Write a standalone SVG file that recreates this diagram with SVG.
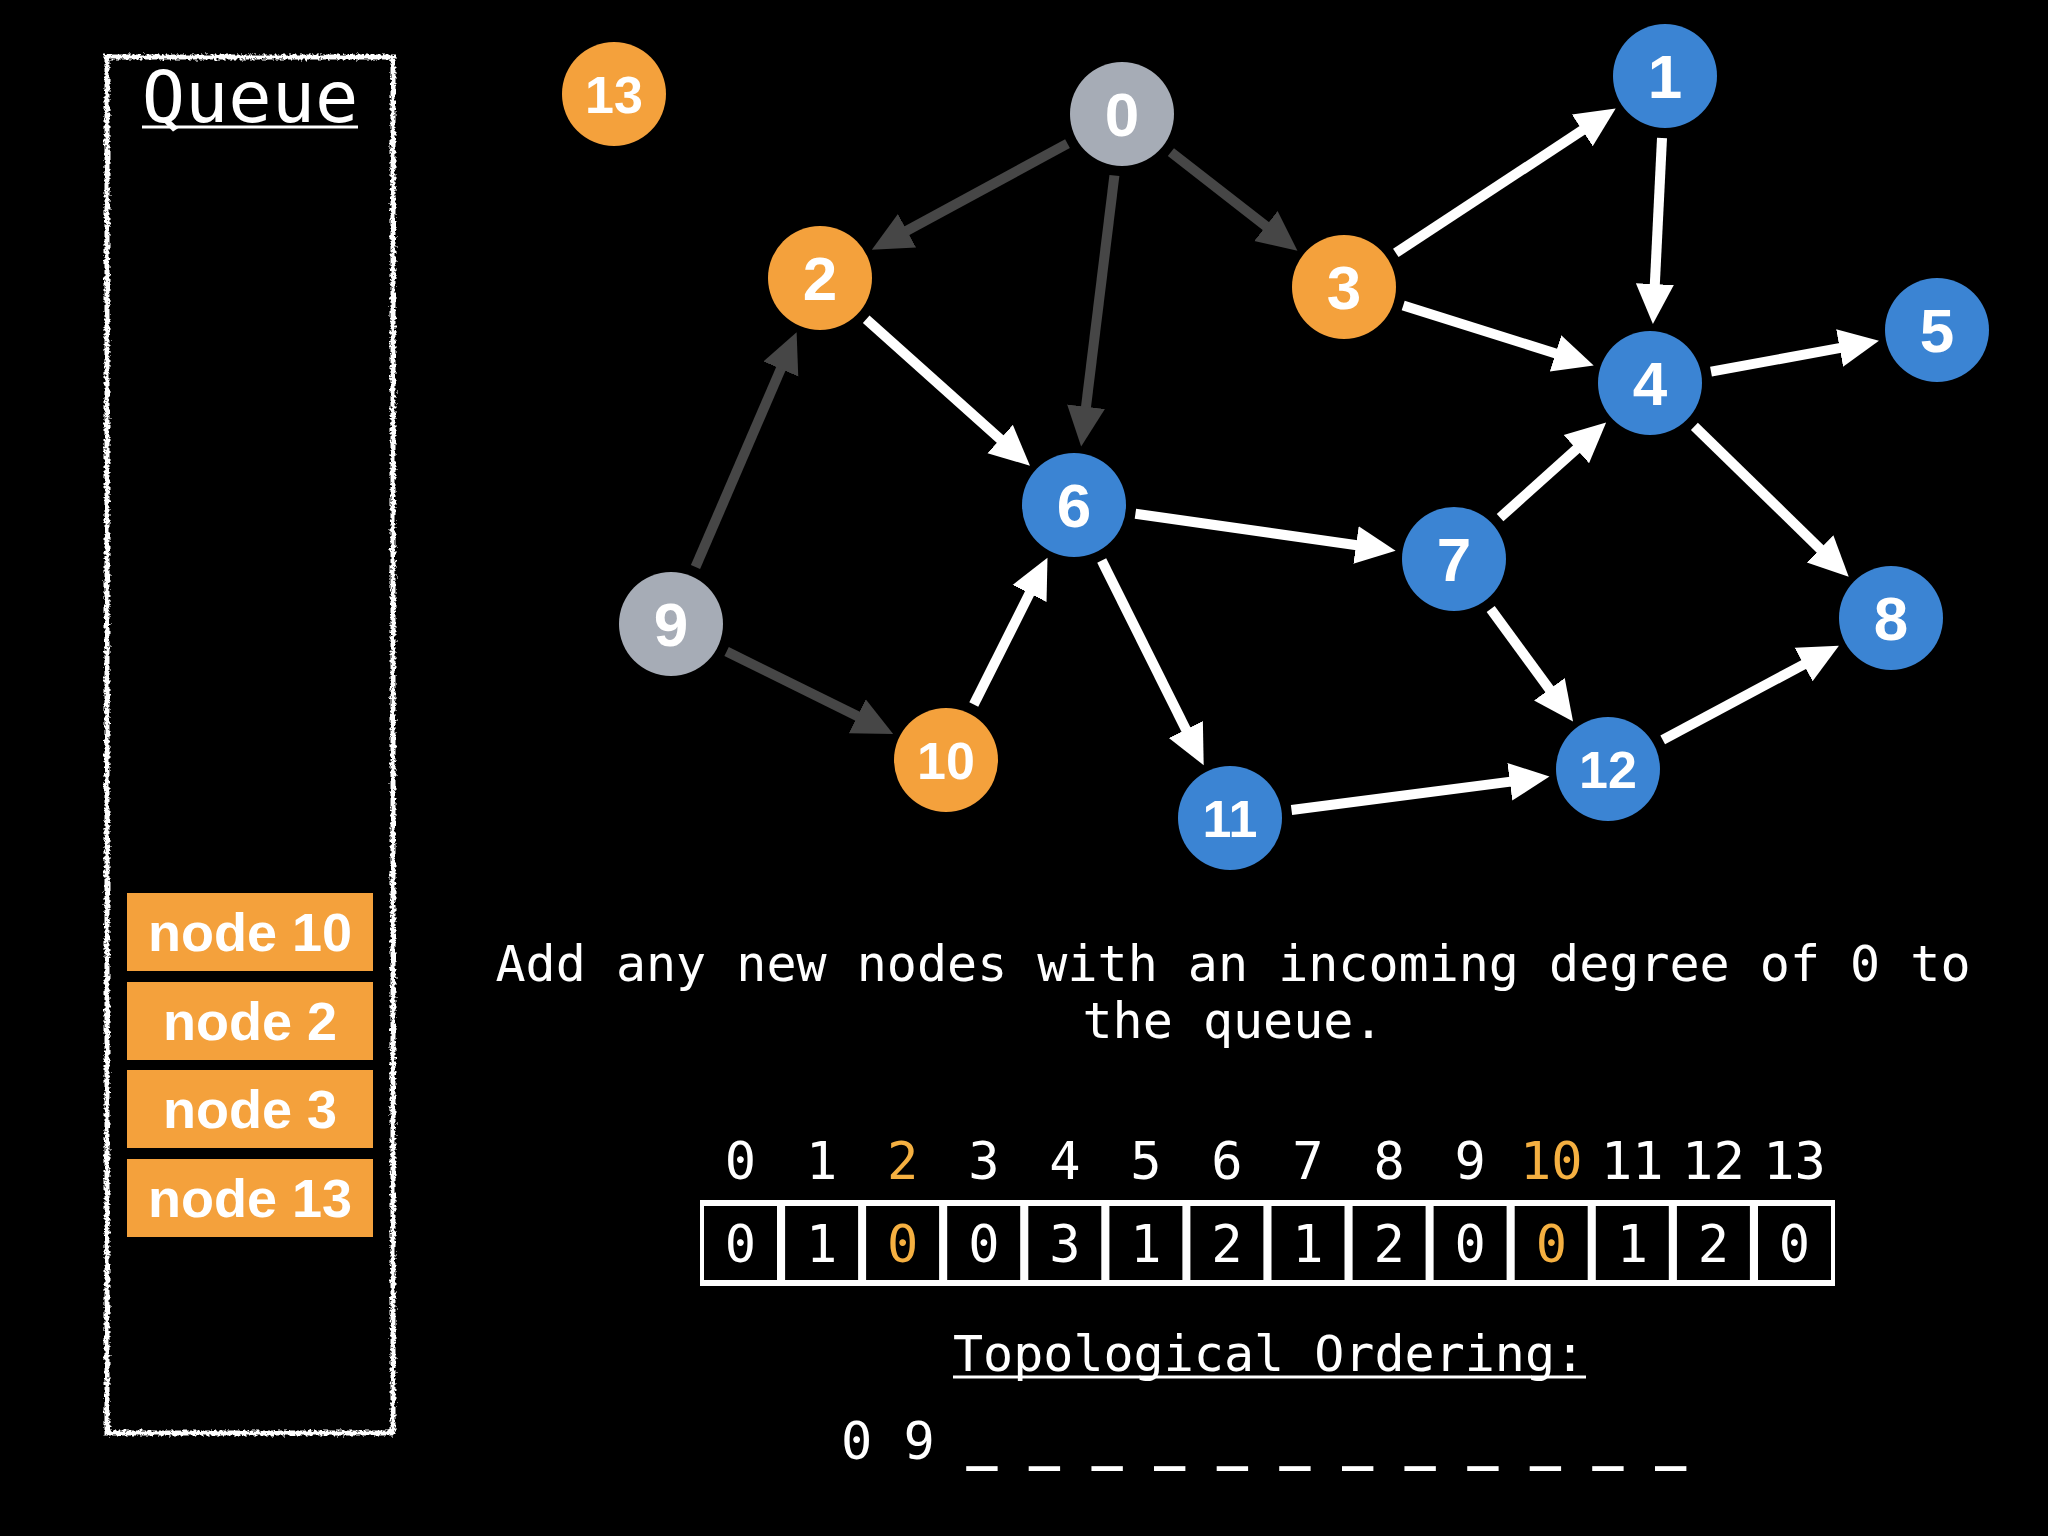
<svg xmlns="http://www.w3.org/2000/svg" width="2048" height="1536" viewBox="0 0 2048 1536">
<defs>
<style>
.mono{font-family:"DejaVu Sans Mono","Liberation Mono",monospace;fill:#fff}
.lbl{font-family:"Liberation Sans",Arial,sans-serif;font-weight:bold;fill:#fff;text-anchor:middle}
.s{font-size:62px}
.d{font-size:52px}
.orange{fill:#F4A13C}
.blue{fill:#3B84D3}
.gray{fill:#A6ACB6}
.ew{stroke:#fff;stroke-width:10;fill:none;marker-end:url(#aw)}
.eg{stroke:#464646;stroke-width:10;fill:none;marker-end:url(#ag)}
.qi{fill:#F4A13C}
.qt{font-family:"Liberation Sans",Arial,sans-serif;font-weight:bold;font-size:54px;fill:#fff;text-anchor:middle}
.hi{fill:#F5B041}
</style>
<marker id="aw" markerUnits="userSpaceOnUse" markerWidth="44" markerHeight="44" viewBox="0 -22 44 44" refX="1" refY="0" orient="auto">
<path d="M0,-19 L40,0 L0,19 z" fill="#fff"/>
</marker>
<marker id="ag" markerUnits="userSpaceOnUse" markerWidth="44" markerHeight="44" viewBox="0 -22 44 44" refX="1" refY="0" orient="auto">
<path d="M0,-19 L40,0 L0,19 z" fill="#464646"/>
</marker>
<filter id="rough" x="-5%" y="-5%" width="110%" height="110%">
<feTurbulence type="fractalNoise" baseFrequency="0.35" numOctaves="2" seed="3" result="n"/>
<feDisplacementMap in="SourceGraphic" in2="n" scale="6" xChannelSelector="R" yChannelSelector="G"/>
</filter>
</defs>
<rect width="2048" height="1536" fill="#000"/>

<g id="queue">
<rect x="107" y="57" width="286" height="1376" fill="none" stroke="#fff" stroke-width="5" filter="url(#rough)"/>
<text class="mono" x="250" y="122" font-size="72" text-anchor="middle">Queue</text>
<line x1="142" y1="127" x2="358" y2="127" stroke="#fff" stroke-width="3"/>
<g id="q-node10"><rect class="qi" x="127" y="893" width="246" height="78"/><text class="qt" x="250" y="951">node 10</text></g>
<g id="q-node2"><rect class="qi" x="127" y="982" width="246" height="78"/><text class="qt" x="250" y="1040">node 2</text></g>
<g id="q-node3"><rect class="qi" x="127" y="1070" width="246" height="78"/><text class="qt" x="250" y="1128">node 3</text></g>
<g id="q-node13"><rect class="qi" x="127" y="1159" width="246" height="78"/><text class="qt" x="250" y="1217">node 13</text></g>
</g>

<g id="connectors">
<line class="eg" x1="1067.5" y1="143.6" x2="906.1" y2="231.2"/>
<line class="eg" x1="1114.4" y1="175.5" x2="1085.9" y2="407.7"/>
<line class="eg" x1="1170.9" y1="152.1" x2="1266.7" y2="226.7"/>
<line class="eg" x1="695.5" y1="567.1" x2="781.2" y2="368"/>
<line class="eg" x1="726.6" y1="651.5" x2="858.2" y2="716.6"/>
<line class="ew" x1="866.2" y1="319.3" x2="1000.9" y2="439.7"/>
<line class="ew" x1="1395.8" y1="252.9" x2="1583.1" y2="129.8"/>
<line class="ew" x1="1403.2" y1="305.6" x2="1556.5" y2="353.7"/>
<line class="ew" x1="1662" y1="137.9" x2="1654.8" y2="285.1"/>
<line class="ew" x1="1711" y1="371.7" x2="1840.6" y2="347.8"/>
<line class="ew" x1="1694.4" y1="426.3" x2="1820.8" y2="549.6"/>
<line class="ew" x1="1135.4" y1="513.7" x2="1357" y2="545.2"/>
<line class="ew" x1="1500.1" y1="517.6" x2="1577.1" y2="448.5"/>
<line class="ew" x1="1490.7" y1="609" x2="1550" y2="690"/>
<line class="ew" x1="1101.7" y1="560.5" x2="1186.3" y2="730.3"/>
<line class="ew" x1="973.8" y1="704.6" x2="1030" y2="592.6"/>
<line class="ew" x1="1291.5" y1="810" x2="1510.8" y2="781.6"/>
<line class="ew" x1="1662.7" y1="739.8" x2="1804.5" y2="664.1"/>
</g>

<g id="node0"><circle class="gray" cx="1122" cy="114" r="52"/><text class="lbl s" x="1122" y="136">0</text></g>
<g id="node1"><circle class="blue" cx="1665" cy="76" r="52"/><text class="lbl s" x="1665" y="98">1</text></g>
<g id="node2"><circle class="orange" cx="820" cy="278" r="52"/><text class="lbl s" x="820" y="300">2</text></g>
<g id="node3"><circle class="orange" cx="1344" cy="287" r="52"/><text class="lbl s" x="1344" y="309">3</text></g>
<g id="node4"><circle class="blue" cx="1650" cy="383" r="52"/><text class="lbl s" x="1650" y="405">4</text></g>
<g id="node5"><circle class="blue" cx="1937" cy="330" r="52"/><text class="lbl s" x="1937" y="352">5</text></g>
<g id="node6"><circle class="blue" cx="1074" cy="505" r="52"/><text class="lbl s" x="1074" y="527">6</text></g>
<g id="node7"><circle class="blue" cx="1454" cy="559" r="52"/><text class="lbl s" x="1454" y="581">7</text></g>
<g id="node8"><circle class="blue" cx="1891" cy="618" r="52"/><text class="lbl s" x="1891" y="640">8</text></g>
<g id="node9"><circle class="gray" cx="671" cy="624" r="52"/><text class="lbl s" x="671" y="646">9</text></g>
<g id="node10"><circle class="orange" cx="946" cy="760" r="52"/><text class="lbl d" x="946" y="779">10</text></g>
<g id="node11"><circle class="blue" cx="1230" cy="818" r="52"/><text class="lbl d" x="1230" y="837">11</text></g>
<g id="node12"><circle class="blue" cx="1608" cy="769" r="52"/><text class="lbl d" x="1608" y="788">12</text></g>
<g id="node13"><circle class="orange" cx="614" cy="94" r="52"/><text class="lbl d" x="614" y="113">13</text></g>

<g id="caption">
<text class="mono" font-size="50" x="1233" y="981" text-anchor="middle">Add any new nodes with an incoming degree of 0 to</text>
<text class="mono" font-size="50" x="1233" y="1038" text-anchor="middle">the queue.</text>
</g>

<g id="indegree-array">
<g class="mono" font-size="52" text-anchor="middle">
<text x="740.5" y="1179">0</text>
<text x="821.6" y="1179">1</text>
<text x="902.7" y="1179" class="mono hi">2</text>
<text x="983.8" y="1179">3</text>
<text x="1064.8" y="1179">4</text>
<text x="1145.9" y="1179">5</text>
<text x="1227" y="1179">6</text>
<text x="1308" y="1179">7</text>
<text x="1389.1" y="1179">8</text>
<text x="1470.2" y="1179">9</text>
<text x="1551.3" y="1179" class="mono hi">10</text>
<text x="1632.3" y="1179">11</text>
<text x="1713.4" y="1179">12</text>
<text x="1794.5" y="1179">13</text>
</g>
<rect x="700" y="1200" width="1135" height="86" fill="#fff"/>
<g fill="#000">
<rect x="704" y="1206" width="73" height="74"/>
<rect x="785.1" y="1206" width="73" height="74"/>
<rect x="866.1" y="1206" width="73" height="74"/>
<rect x="947.2" y="1206" width="73" height="74"/>
<rect x="1028.3" y="1206" width="73" height="74"/>
<rect x="1109.4" y="1206" width="73" height="74"/>
<rect x="1190.4" y="1206" width="73" height="74"/>
<rect x="1271.5" y="1206" width="73" height="74"/>
<rect x="1352.6" y="1206" width="73" height="74"/>
<rect x="1433.6" y="1206" width="73" height="74"/>
<rect x="1514.7" y="1206" width="73" height="74"/>
<rect x="1595.8" y="1206" width="73" height="74"/>
<rect x="1676.9" y="1206" width="73" height="74"/>
<rect x="1758" y="1206" width="73" height="74"/>
</g>
<g class="mono" font-size="52" text-anchor="middle">
<text x="740.5" y="1262">0</text>
<text x="821.6" y="1262">1</text>
<text x="902.7" y="1262" class="mono hi">0</text>
<text x="983.8" y="1262">0</text>
<text x="1064.8" y="1262">3</text>
<text x="1145.9" y="1262">1</text>
<text x="1227" y="1262">2</text>
<text x="1308" y="1262">1</text>
<text x="1389.1" y="1262">2</text>
<text x="1470.2" y="1262">0</text>
<text x="1551.3" y="1262" class="mono hi">0</text>
<text x="1632.3" y="1262">1</text>
<text x="1713.4" y="1262">2</text>
<text x="1794.5" y="1262">0</text>
</g>
</g>

<g id="ordering">
<text class="mono" font-size="50" x="953" y="1371">Topological Ordering:</text>
<line x1="953" y1="1377" x2="1586" y2="1377" stroke="#fff" stroke-width="3"/>
<text class="mono" font-size="52" x="841" y="1459" xml:space="preserve">0 9 <tspan font-weight="bold">_ _ _ _ _ _ _ _ _ _ _ _</tspan></text>
</g>
</svg>
